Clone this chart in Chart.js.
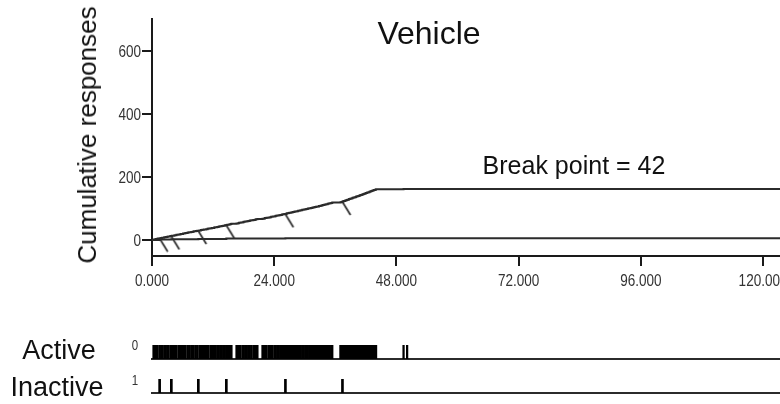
<!DOCTYPE html>
<html>
<head>
<meta charset="utf-8">
<script src="https://cdn.jsdelivr.net/npm/chart.js@4/dist/chart.umd.min.js"></script>
<style>
  html, body { margin: 0; padding: 0; background: #fff; overflow: hidden; width: 780px; height: 404px; }
  #wrap { position: relative; width: 780px; height: 404px; overflow: hidden; }
  canvas { position: absolute; left: 0; }
  .lbl { position: absolute; font-family: "Liberation Sans", Arial, sans-serif; color: #111;
         white-space: nowrap; line-height: 1; transform: translate(-50%, -50%); }
  .small { font-size: 14px; color: #333; transform: translate(-50%, -50%) scaleX(0.82); }
</style>
</head>
<body>
<div id="wrap">
  <canvas id="main" width="830" height="296" style="top:0"></canvas>
  <canvas id="active" width="830" height="32" style="top:330px"></canvas>
  <canvas id="inactive" width="830" height="34" style="top:370px"></canvas>

  <div class="lbl" id="session" style="left:429px; top:33px; font-size:32px;"></div>
  <div class="lbl" id="bp" style="left:574px; top:165px; font-size:25px;"></div>
  <div class="lbl" style="left:87px; top:135px; font-size:26px; transform: translate(-50%, -50%) rotate(-90deg);">Cumulative responses</div>
  <div class="lbl" style="left:59px; top:350px; font-size:27px;">Active</div>
  <div class="lbl" style="left:57px; top:387px; font-size:27px;">Inactive</div>
  <div class="lbl small" style="left:135px; top:345px;">0</div>
  <div class="lbl small" style="left:135px; top:380px;">1</div>
</div>

<script>
// Session: times (min) of every lever press
const sessionName = 'Vehicle';
const breakPoint = 42;
const sessionEnd = 130;

const activeTimes = [
  0.3, 0.6, 0.8, 1.1, 1.5, 1.8, 2.0, 2.4, 2.7, 3.0,
  3.2, 3.6, 3.9, 4.3, 4.5, 4.8, 5.2, 5.5, 5.7, 6.1,
  6.4, 6.6, 7.0, 7.3, 7.7, 8.0, 8.2, 8.6, 8.9, 9.3,
  9.6, 9.9, 10.2, 10.6, 10.9, 11.1, 11.5, 11.8, 12.2, 12.4,
  12.8, 13.1, 13.4, 13.7, 14.0, 14.3, 14.6, 14.8, 15.1, 15.4,
  15.6,
  16.6, 16.9, 17.1, 17.4, 17.8, 18.0, 18.3, 18.6, 18.9, 19.2,
  19.5, 19.9, 20.2, 20.4, 20.7,
  21.7, 22.0, 22.2, 22.5, 22.9, 23.2, 23.4, 23.7, 24.1, 24.3,
  24.6, 24.9, 25.2, 25.5, 25.7, 26.0, 26.3, 26.5, 26.8, 27.0,
  27.3, 27.6, 27.9, 28.1, 28.4, 28.7, 29.0, 29.2, 29.5, 29.8,
  30.1, 30.3, 30.6, 30.9, 31.2, 31.4, 31.7, 32.0, 32.2, 32.5,
  32.8,
  33.1, 33.3, 33.5, 33.8, 34.0, 34.2, 34.5, 34.7, 34.9, 35.2,
  35.4,
  37.0, 37.2, 37.3, 37.5, 37.7, 37.9, 38.0, 38.2, 38.4, 38.6,
  38.7, 38.9, 39.1, 39.3, 39.4, 39.6, 39.8, 40.0, 40.1, 40.3,
  40.5, 40.7, 40.8, 41.0, 41.2, 41.3, 41.5, 41.7, 41.8, 42.0,
  42.2, 42.3, 42.5, 42.7, 42.8, 43.0, 43.1, 43.3, 43.5, 43.6,
  43.8, 44.0,
  49.4, 50.1
];
const inactiveTimes = [1.5, 3.8, 9.1, 14.6, 26.2, 37.4];

const xTicks = [0, 24, 48, 72, 96, 120];
const yTicks = [0, 200, 400, 600];

document.getElementById('session').textContent = sessionName;
document.getElementById('bp').textContent = 'Break point = ' + breakPoint;

// Cumulative record: one step per press, held flat until the session ends
function cumulative(times) {
  const pts = [{ x: 0, y: 0 }];
  times.forEach((t, i) => pts.push({ x: t, y: i + 1 }));
  pts.push({ x: sessionEnd, y: times.length });
  return pts;
}
function countAt(times, t) {
  return times.filter(v => v <= t).length;
}

// Hatch mark hanging down-right from the record
const hatch = document.createElement('canvas');
hatch.width = 20; hatch.height = 28;
(function () {
  const c = hatch.getContext('2d');
  c.strokeStyle = '#222';
  c.lineWidth = 1.6;
  c.beginPath();
  c.moveTo(10, 14);
  c.lineTo(18, 27);
  c.stroke();
})();

const ink = '#1a1a1a';

// Condensed tick labels, placed at the positions of the scales' own ticks
const condensedTicks = {
  id: 'condensedTicks',
  afterDraw(chart) {
    const ctx = chart.ctx;
    const xs = chart.scales.x, ys = chart.scales.y;
    ctx.save();
    ctx.font = '16.5px "Liberation Sans", Arial, sans-serif';
    ctx.fillStyle = '#333';
    ctx.textBaseline = 'alphabetic';
    const squeeze = 0.82;
    xs.ticks.forEach(t => {
      ctx.save();
      ctx.translate(xs.getPixelForValue(t.value), xs.top + 30);
      ctx.scale(squeeze, 1);
      ctx.textAlign = 'center';
      ctx.fillText(t.value.toFixed(3), 0, 0);
      ctx.restore();
    });
    ys.ticks.forEach(t => {
      ctx.save();
      ctx.translate(ys.right - 11, ys.getPixelForValue(t.value) + 6);
      ctx.scale(squeeze, 1);
      ctx.textAlign = 'right';
      ctx.fillText(String(t.value), 0, 0);
      ctx.restore();
    });
    ctx.restore();
  }
};

new Chart(document.getElementById('main'), {
  type: 'line',
  data: {
    datasets: [
      { data: cumulative(activeTimes), borderColor: '#2b2b2b', borderWidth: 2, stepped: 'after', pointRadius: 0, fill: false },
      { data: cumulative(inactiveTimes), borderColor: '#2b2b2b', borderWidth: 2, stepped: 'after', pointRadius: 0, fill: false },
      { data: inactiveTimes.map(t => ({ x: t, y: countAt(activeTimes, t) })), showLine: false,
        pointStyle: hatch, pointRadius: 3, borderWidth: 0 }
    ]
  },
  options: {
    responsive: false, devicePixelRatio: 1, animation: false, events: [],
    layout: { padding: { top: 19, right: 16, bottom: 0, left: 0 } },
    plugins: { legend: { display: false }, tooltip: { enabled: false } },
    scales: {
      x: {
        type: 'linear', min: 0, max: sessionEnd,
        afterBuildTicks: s => { s.ticks = xTicks.map(v => ({ value: v })); },
        afterFit: s => { s.height = 40; },
        ticks: { display: false },
        grid: { drawOnChartArea: false, drawTicks: true, tickLength: 10, color: ink, lineWidth: 2 },
        border: { display: true, color: ink, width: 2 }
      },
      y: {
        min: -50, max: 700,
        afterBuildTicks: s => { s.ticks = yTicks.map(v => ({ value: v })); },
        afterFit: s => { s.width = 152; },
        ticks: { display: false },
        grid: { drawOnChartArea: false, drawTicks: true, tickLength: 10, color: ink, lineWidth: 2 },
        border: { display: true, color: ink, width: 2 }
      }
    }
  },
  plugins: [condensedTicks]
});

// Event rasters: one tick per press on a baseline
function raster(id, times, pad, thickness) {
  new Chart(document.getElementById(id), {
    type: 'bar',
    data: { datasets: [{ data: times.map(t => ({ x: t, y: [0, 1] })), backgroundColor: '#000',
                         barThickness: thickness, borderWidth: 0 }] },
    options: {
      responsive: false, devicePixelRatio: 1, animation: false, events: [],
      layout: { padding: pad },
      plugins: { legend: { display: false }, tooltip: { enabled: false } },
      scales: {
        x: {
          type: 'linear', min: 0, max: sessionEnd, offset: false,
          afterFit: s => { s.height = 0; },
          ticks: { display: false },
          grid: { offset: false, drawOnChartArea: false, drawTicks: false },
          border: { display: true, color: '#2b2b2b', width: 2 }
        },
        y: { display: false, min: 0, max: 1 }
      }
    }
  });
}
raster('active', activeTimes, { top: 15, bottom: 3, left: 152, right: 16 }, 1.6);
raster('inactive', inactiveTimes, { top: 9, bottom: 11, left: 152, right: 16 }, 2);
</script>
</body>
</html>
